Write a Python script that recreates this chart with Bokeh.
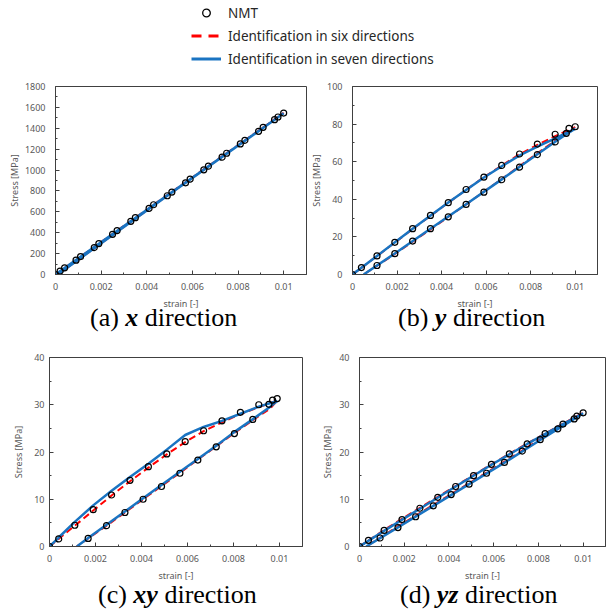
from bokeh.plotting import figure
from bokeh.models import Range1d, FixedTicker, Legend, LegendItem, Div
from bokeh.layouts import column, row
from bokeh.embed import file_html
from bokeh.resources import INLINE

# ---------------- shared ticks / labels ----------------
x_ticks = [0, 0.002, 0.004, 0.006, 0.008, 0.01]
x_tick_labels = ["0", "0.002", "0.004", "0.006", "0.008", "0.01"]
x_minor_ticks = [0.001, 0.003, 0.005, 0.007, 0.009, 0.011]

legend_labels = ["NMT", "Identification in six directions", "Identification in seven directions"]
x_axis_label = "strain [-]"
y_axis_label = "Stress [MPa]"
caption_letters = ["(a)", "(b)", "(c)", "(d)"]
caption_axes = ["x", "y", "xy", "yz"]
caption_word = "direction"

# ---------------- (a) x direction ----------------
a_y_ticks = [0, 200, 400, 600, 800, 1000, 1200, 1400, 1600, 1800]
a_y_labels = ["0", "200", "400", "600", "800", "1000", "1200", "1400", "1600", "1800"]
a_y_minor = [100, 300, 500, 700, 900, 1100, 1300, 1500, 1700]
a_load_strain = [0, 0.0004, 0.0011, 0.0019, 0.0027, 0.0035, 0.0043, 0.0051, 0.0059,
                 0.0067, 0.0075, 0.0083, 0.0091, 0.00975, 0.01]
a_load_nmt = [0, 64, 172, 296, 420, 544, 668, 789, 913, 1037, 1161, 1285, 1409, 1508, 1546]
a_unload_strain = [0.0096, 0.0089, 0.0081, 0.0073, 0.0065, 0.0057, 0.0049, 0.0041,
                   0.0033, 0.0025, 0.0017, 0.0009, 0.0002]
a_unload_nmt = [1482, 1371, 1250, 1123, 1002, 878, 754, 633, 509, 385, 258, 137, 32]
a_six_strain = [0, 0.0043, 0.01, 0.0049, 0.0001]
a_six_stress = [0, 668, 1547, 756, 0]
a_seven_strain = [0, 0.0043, 0.01, 0.0049, 0.0001]
a_seven_stress = [0, 666, 1543, 754, 0]

# ---------------- (b) y direction ----------------
b_y_ticks = [0, 20, 40, 60, 80, 100]
b_y_labels = ["0", "20", "40", "60", "80", "100"]
b_y_minor = [10, 30, 50, 70, 90]
b_load_strain = [0, 0.0004, 0.0011, 0.0019, 0.0027, 0.0035, 0.0043, 0.0051, 0.0059,
                 0.0067, 0.0075, 0.0083, 0.0091, 0.00972, 0.01]
b_load_nmt = [0, 3.7, 9.9, 17.1, 24.4, 31.4, 38.2, 45.2, 51.8, 58.0, 64.1, 69.4, 74.6, 77.7, 78.6]
b_unload_strain = [0.0096, 0.0091, 0.0083, 0.0075, 0.0067, 0.0059, 0.0051, 0.0043,
                   0.0035, 0.0027, 0.0019, 0.0011]
b_unload_nmt = [75.1, 70.5, 63.8, 57.1, 50.4, 43.8, 37.3, 30.7, 24.4, 17.8, 11.1, 4.8]
b_six_strain = [0, 0.0011, 0.0027, 0.0043, 0.0059, 0.0075, 0.0083, 0.0091, 0.01,
                0.0096, 0.0091, 0.0083, 0.0067, 0.0051, 0.0035, 0.0019, 0.0005]
b_six_stress = [0, 9.8, 24.2, 38.2, 51.8, 64.0, 68.9, 73.6, 78.4,
                75.6, 71.2, 64.5, 50.8, 37.3, 24.0, 10.9, 0]
b_seven_strain = [0, 0.0011, 0.0027, 0.0043, 0.0059, 0.0067, 0.0075, 0.0083, 0.0091, 0.01,
                  0.0096, 0.0091, 0.0083, 0.0067, 0.0051, 0.0035, 0.0019, 0.0005]
b_seven_stress = [0, 9.9, 24.3, 38.3, 51.6, 57.6, 63.3, 68.0, 72.4, 77.6,
                  74.6, 70.6, 64.0, 50.6, 37.4, 24.3, 11.2, 0]

# ---------------- (c) xy direction ----------------
c_y_ticks = [0, 10, 20, 30, 40]
c_y_labels = ["0", "10", "20", "30", "40"]
c_y_minor = [5, 15, 25, 35]
c_load_strain = [0, 0.0004, 0.0011, 0.0019, 0.0027, 0.0035, 0.0043, 0.0051, 0.0059,
                 0.0067, 0.0075, 0.0083, 0.0091, 0.0097, 0.0099]
c_load_nmt = [0, 1.6, 4.5, 7.8, 10.9, 14.0, 16.9, 19.6, 22.2, 24.5, 26.6, 28.4, 30.0, 31.0, 31.3]
c_unload_strain = [0.00954, 0.00884, 0.00804, 0.00725, 0.00645, 0.00567, 0.00487,
                   0.00407, 0.00328, 0.00248, 0.00168]
c_unload_nmt = [30.1, 26.9, 23.9, 21.1, 18.3, 15.5, 12.7, 10.0, 7.2, 4.4, 1.7]
c_six_strain = [0, 0.0004, 0.0011, 0.0019, 0.0027, 0.0035, 0.0043, 0.0051, 0.0059, 0.0067,
                0.0075, 0.0083, 0.0091, 0.0099, 0.0096, 0.0088, 0.0080, 0.00725, 0.00645,
                0.00567, 0.00487, 0.00407, 0.00328, 0.00248, 0.00168, 0.00118]
c_six_stress = [0, 1.6, 4.4, 7.6, 10.8, 13.8, 16.7, 19.5, 22.1, 24.4,
                26.3, 28.0, 29.5, 30.9, 29.2, 26.6, 23.9, 21.2, 18.4,
                15.6, 12.8, 10.0, 7.2, 4.4, 1.7, 0]
c_seven_strain = [0, 0.0004, 0.0011, 0.0019, 0.0027, 0.0035, 0.0043, 0.0051, 0.0059, 0.0067,
                  0.0075, 0.0083, 0.0091, 0.0099, 0.0096, 0.0088, 0.0080, 0.00725, 0.00645,
                  0.00567, 0.00487, 0.00407, 0.00328, 0.00248, 0.00168, 0.00119]
c_seven_stress = [0, 1.9, 5.2, 8.7, 11.8, 14.7, 17.5, 20.5, 23.6, 25.3,
                  26.6, 28.1, 29.6, 30.8, 29.6, 26.8, 24.1, 21.3, 18.5,
                  15.8, 13.0, 10.2, 7.4, 4.6, 1.8, 0]

# ---------------- (d) yz direction ----------------
d_y_ticks = [0, 10, 20, 30, 40]
d_y_labels = ["0", "10", "20", "30", "40"]
d_y_minor = [5, 15, 25, 35]
d_load_strain = [0, 0.0004, 0.0011, 0.0019, 0.0027, 0.0035, 0.0043, 0.0051, 0.0059,
                 0.0067, 0.0075, 0.0083, 0.0091, 0.00972, 0.01]
d_load_nmt = [0, 1.3, 3.4, 5.7, 8.1, 10.4, 12.7, 15.0, 17.4, 19.6, 21.7, 23.9, 25.9, 27.6, 28.3]
d_unload_strain = [0.0096, 0.00887, 0.00808, 0.00728, 0.00648, 0.00568, 0.0049, 0.0041,
                   0.0033, 0.00251, 0.00172, 0.00092]
d_unload_nmt = [27.0, 24.9, 22.6, 20.2, 17.8, 15.5, 13.2, 11.0, 8.6, 6.3, 4.0, 1.8]
d_six_strain = [0, 0.0011, 0.0027, 0.0043, 0.0059, 0.0075, 0.0091, 0.01,
                0.0096, 0.0081, 0.0065, 0.0049, 0.0033, 0.0017, 0.0003]
d_six_stress = [0, 3.5, 8.2, 12.8, 17.4, 21.8, 26.0, 28.3,
                27.2, 22.8, 18.0, 13.4, 8.8, 4.2, 0]
d_seven_strain = [0, 0.0011, 0.0027, 0.0043, 0.0059, 0.0075, 0.0091, 0.01,
                  0.0096, 0.0081, 0.0065, 0.0049, 0.0033, 0.0017, 0.0003]
d_seven_stress = [0, 3.3, 8.0, 12.7, 17.3, 21.7, 25.9, 28.2,
                  27.0, 22.6, 17.8, 13.2, 8.6, 4.0, 0]

# ---------------- styling ----------------
BLUE = "#1a74c2"
RED = "#ff0000"
FRAME = "#404040"
TICK_GRAY = "#595959"
SANS = "Noto Sans"
SERIF = "Liberation Serif"


def make_caption(w, h, idx, indent, line_h):
    html = (f'{caption_letters[idx]} <b><i>{caption_axes[idx]}</i></b> {caption_word}')
    return Div(text=html, width=w, height=h, margin=0,
               styles={"font-family": f"'{SERIF}', serif", "font-size": "26px",
                       "line-height": f"{line_h}px", "text-indent": f"{indent}px",
                       "white-space": "nowrap", "color": "black", "overflow": "visible"})


def make_panel(w, bl, br, bt, fh, bb, y_max, y_ticks, y_labels, y_minor,
               load_x, load_y, unload_x, unload_y, six_x, six_y, seven_x, seven_y,
               ylab_standoff, yaxis_standoff):
    p = figure(width=w, height=bt + fh + bb, x_range=Range1d(0, 0.011), y_range=Range1d(0, y_max),
               output_backend="svg", toolbar_location=None,
               min_border_left=bl, min_border_right=br, min_border_top=bt, min_border_bottom=bb)
    p.xgrid.visible = False
    p.ygrid.visible = False
    p.outline_line_color = FRAME
    p.outline_line_width = 1
    p.background_fill_color = "white"
    p.border_fill_color = "white"

    p.line(six_x, six_y, line_color=RED, line_width=2, line_dash="7 4")
    p.line(seven_x, seven_y, line_color=BLUE, line_width=2.5)
    for xs, ys in ((load_x, load_y), (unload_x, unload_y)):
        p.scatter(xs, ys, marker="circle", size=6, fill_color=None,
                  line_color="black", line_width=1.2)

    xa = p.xaxis[0]
    xa.ticker = FixedTicker(ticks=x_ticks, minor_ticks=x_minor_ticks)
    xa.major_label_overrides = dict(zip(x_ticks, x_tick_labels))
    xa.axis_label = x_axis_label
    xa.major_label_standoff = 8
    xa.axis_label_standoff = 4

    ya = p.yaxis[0]
    ya.ticker = FixedTicker(ticks=y_ticks, minor_ticks=y_minor)
    ya.major_label_overrides = dict(zip(y_ticks, y_labels))
    ya.axis_label = y_axis_label
    ya.major_label_standoff = ylab_standoff
    ya.axis_label_standoff = yaxis_standoff

    for ax in (xa, ya):
        ax.axis_line_color = FRAME
        ax.major_tick_line_color = FRAME
        ax.minor_tick_line_color = FRAME
        ax.major_tick_in = 4
        ax.major_tick_out = 0
        ax.minor_tick_in = 2
        ax.minor_tick_out = 0
        ax.major_label_text_font = SANS
        ax.major_label_text_font_size = "9px"
        ax.major_label_text_color = TICK_GRAY
        ax.axis_label_text_font = SANS
        ax.axis_label_text_font_size = "9px"
        ax.axis_label_text_font_style = "normal"
        ax.axis_label_text_color = TICK_GRAY
    return p


# Row 1 (page y 70..340): frames 86..274, captions 312..340
pa = make_panel(307, 55, 1, 16, 188, 38, 1800, a_y_ticks, a_y_labels, a_y_minor,
                a_load_strain, a_load_nmt, a_unload_strain, a_unload_nmt,
                a_six_strain, a_six_stress, a_seven_strain, a_seven_stress, 10, 1)
pb = make_panel(299, 38, 9, 16, 188, 38, 100, b_y_ticks, b_y_labels, b_y_minor,
                b_load_strain, b_load_nmt, b_unload_strain, b_unload_nmt,
                b_six_strain, b_six_stress, b_seven_strain, b_seven_stress, 10, 1)
cap_a = make_caption(307, 28, 0, 90, 12)
cap_b = make_caption(299, 28, 1, 91, 12)

# Row 2 (page y 340..611): frames 357..546, captions 584..611
pc = make_panel(318, 49, 16, 17, 189, 38, 40, c_y_ticks, c_y_labels, c_y_minor,
                c_load_strain, c_load_nmt, c_unload_strain, c_unload_nmt,
                c_six_strain, c_six_stress, c_seven_strain, c_seven_stress, 5, 6)
pd = make_panel(288, 35, 1, 17, 189, 38, 40, d_y_ticks, d_y_labels, d_y_minor,
                d_load_strain, d_load_nmt, d_unload_strain, d_unload_nmt,
                d_six_strain, d_six_stress, d_seven_strain, d_seven_stress, 10, 2)
cap_c = make_caption(318, 27, 2, 98, 21)
cap_d = make_caption(288, 27, 3, 82, 21)

# ---------------- legend figure ----------------
lg = figure(width=606, height=70, x_range=Range1d(0, 1), y_range=Range1d(0, 1),
            output_backend="svg", toolbar_location=None, x_axis_type=None, y_axis_type=None,
            min_border=0)
lg.grid.visible = False
lg.outline_line_color = None
nan = float("nan")
r_nmt = lg.scatter(x=[nan], y=[nan], marker="circle", size=7, fill_color=None,
                   line_color="black", line_width=1.3)
r_six = lg.line(x=[nan, nan], y=[nan, nan], line_color=RED, line_width=3, line_dash="10 7")
r_seven = lg.line(x=[nan, nan], y=[nan, nan], line_color=BLUE, line_width=3)
legend = Legend(items=[LegendItem(label=legend_labels[0], renderers=[r_nmt]),
                       LegendItem(label=legend_labels[1], renderers=[r_six]),
                       LegendItem(label=legend_labels[2], renderers=[r_seven])],
                location=(191, 2), orientation="vertical",
                glyph_width=30, glyph_height=19, label_height=19, label_standoff=7,
                spacing=4, padding=0, margin=0,
                label_text_font=SANS, label_text_font_size="13.5px", label_text_color="#262626",
                border_line_color=None, background_fill_alpha=0)
lg.add_layout(legend)

layout = column(lg,
                row(column(pa, cap_a, spacing=0), column(pb, cap_b, spacing=0), spacing=0),
                row(column(pc, cap_c, spacing=0), column(pd, cap_d, spacing=0), spacing=0),
                spacing=0)

with open("out.html", "w") as f:
    f.write(file_html(layout, INLINE))
